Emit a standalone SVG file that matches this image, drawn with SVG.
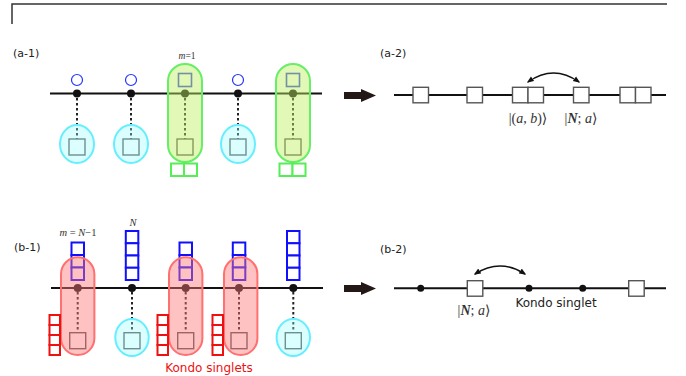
<svg xmlns="http://www.w3.org/2000/svg" width="686" height="376" viewBox="0 0 686 376">
<defs>
<style>
.lbl{font-family:"DejaVu Sans","Liberation Sans",sans-serif;font-size:11px;fill:#222}
.math{font-family:"Liberation Serif","DejaVu Serif",serif;fill:#333}
.it{font-style:italic}
.chain{stroke:#111;stroke-width:2;fill:none}
.dot{fill:#111}
.dash{stroke:#222;stroke-width:2;stroke-dasharray:2.5 2.5}
.sq{fill:#fff;stroke:#555;stroke-width:1.4}
.bcirc{fill:#fff;stroke:#2233ff;stroke-width:1.2}
.bsq{fill:#fff;stroke:#3344dd;stroke-width:1.6}
.bsq2{fill:#fff;stroke:#1010ff;stroke-width:2}
.gsq{fill:#fff;stroke:#55ee55;stroke-width:2}
.rsq{fill:#fff;stroke:#ee1111;stroke-width:2}
.cyan{fill:#99ffff;fill-opacity:0.35;stroke:#66eeff;stroke-width:2}
.green{fill:#bff060;fill-opacity:0.45;stroke:#66ee66;stroke-width:2}
.red{fill:#ff7777;fill-opacity:0.45;stroke:#ff7070;stroke-width:2}
.big{fill:#231815}
.curve{stroke:#111;stroke-width:1.5;fill:none}
</style>
<marker id="ah" viewBox="0 0 10 10" refX="8" refY="5" markerWidth="7" markerHeight="7" orient="auto-start-reverse" markerUnits="userSpaceOnUse">
<path d="M0,1 L10,5 L0,9 Z" fill="#111"/>
</marker>
</defs>

<g id="frame">
<path d="M12,24 V4 H667" fill="none" stroke="#333" stroke-width="1.5"/>
</g>

<g id="labels">
<text class="lbl" x="13" y="57">(a-1)</text>
<text class="lbl" x="380" y="57">(a-2)</text>
<text class="lbl" x="14" y="251">(b-1)</text>
<text class="lbl" x="380" y="253">(b-2)</text>
<text class="math" x="187" y="59" font-size="9.5" text-anchor="middle"><tspan class="it">m</tspan>=1</text>
<text class="math" x="78" y="236" font-size="10.5" text-anchor="middle"><tspan class="it">m</tspan> = <tspan class="it">N</tspan>−1</text>
<text class="math it" x="133" y="226" font-size="10.5" text-anchor="middle">N</text>
<text x="209" y="372" font-family="DejaVu Sans,Liberation Sans,sans-serif" font-size="12" fill="#ee1111" text-anchor="middle">Kondo singlets</text>
<text class="math" x="528" y="123" font-size="14" text-anchor="middle">|(<tspan class="it">a</tspan>, <tspan class="it">b</tspan>)⟩</text>
<text class="math" x="581" y="123" font-size="14" text-anchor="middle">|<tspan class="it" font-weight="bold">N</tspan>; <tspan class="it">a</tspan>⟩</text>
<text class="math" x="474" y="315" font-size="14" text-anchor="middle">|<tspan class="it" font-weight="bold">N</tspan>; <tspan class="it">a</tspan>⟩</text>
<text x="556" y="307" font-family="DejaVu Sans,Liberation Sans,sans-serif" font-size="12" fill="#222" text-anchor="middle">Kondo singlet</text>
</g>

<g id="a1-chain"><line class="chain" x1="50" y1="93.5" x2="322" y2="93.5"/></g>
<g id="a1-site1">
<circle class="bcirc" cx="77" cy="80" r="5.5"/>
<line class="dash" x1="77" y1="98" x2="77" y2="139"/>
<circle class="dot" cx="77" cy="93.5" r="4"/>
<rect class="sq" x="69" y="139" width="16" height="16"/>
<ellipse class="cyan" cx="77" cy="144" rx="17" ry="19"/>
</g>
<g id="a1-site2">
<circle class="bcirc" cx="131" cy="80" r="5.5"/>
<line class="dash" x1="131" y1="98" x2="131" y2="139"/>
<circle class="dot" cx="131" cy="93.5" r="4"/>
<rect class="sq" x="123" y="139" width="16" height="16"/>
<ellipse class="cyan" cx="131" cy="144" rx="17" ry="19"/>
</g>
<g id="a1-site3">
<rect class="bsq" x="178.5" y="73.5" width="13" height="13"/>
<line class="dash" x1="185" y1="98" x2="185" y2="139"/>
<circle class="dot" cx="185" cy="93.5" r="4"/>
<rect class="sq" x="177" y="139" width="16" height="16"/>
<rect class="green" x="168" y="64" width="34" height="98" rx="17"/>
<rect class="gsq" x="171" y="163.5" width="13" height="12.5"/>
<rect class="gsq" x="184" y="163.5" width="13" height="12.5"/>
</g>
<g id="a1-site4">
<circle class="bcirc" cx="238" cy="80" r="5.5"/>
<line class="dash" x1="238" y1="98" x2="238" y2="139"/>
<circle class="dot" cx="238" cy="93.5" r="4"/>
<rect class="sq" x="230" y="139" width="16" height="16"/>
<ellipse class="cyan" cx="238" cy="144" rx="17" ry="19"/>
</g>
<g id="a1-site5">
<rect class="bsq" x="286.5" y="73.5" width="13" height="13"/>
<line class="dash" x1="293" y1="98" x2="293" y2="139"/>
<circle class="dot" cx="293" cy="93.5" r="4"/>
<rect class="sq" x="285" y="139" width="16" height="16"/>
<rect class="green" x="276" y="64" width="34" height="98" rx="17"/>
<rect class="gsq" x="279.5" y="163.5" width="13" height="12.5"/>
<rect class="gsq" x="292.5" y="163.5" width="13" height="12.5"/>
</g>

<g id="arrow-a"><polygon class="big" points="344,92 361,92 361,89 376,95.5 361,102 361,99 344,99"/></g>
<g id="arrow-b"><polygon class="big" points="344,285 361,285 361,282 376,288.5 361,295 361,292 344,292"/></g>

<g id="a2-chain"><line class="chain" x1="394" y1="95" x2="666" y2="95"/></g>
<g id="a2-nodes">
<rect class="sq" x="413" y="87.3" width="15.5" height="15.5"/>
<rect class="sq" x="467" y="87.3" width="15.5" height="15.5"/>
<rect class="sq" x="512.5" y="87.3" width="15.5" height="15.5"/>
<rect class="sq" x="528" y="87.3" width="15.5" height="15.5"/>
<rect class="sq" x="573.5" y="87.3" width="15.5" height="15.5"/>
<rect class="sq" x="620" y="87.3" width="15.5" height="15.5"/>
<rect class="sq" x="635.5" y="87.3" width="15.5" height="15.5"/>
</g>
<g id="a2-connector"><path class="curve" d="M528,82 Q553.5,64 579,82" marker-start="url(#ah)" marker-end="url(#ah)"/></g>

<g id="b1-chain"><line class="chain" x1="51" y1="288" x2="323" y2="288"/></g>
<g id="b1-site1">
<rect class="bsq2" x="71.5" y="242.5" width="12.5" height="12.5"/>
<rect class="bsq2" x="71.5" y="255" width="12.5" height="12.5"/>
<rect class="bsq2" x="71.5" y="267.5" width="12.5" height="12.5"/>
<line class="dash" x1="77.7" y1="292" x2="77.7" y2="333"/>
<circle class="dot" cx="77.7" cy="288" r="4"/>
<rect class="sq" x="69.7" y="332.7" width="16" height="16"/>
<rect class="red" x="61" y="257.3" width="33.4" height="97.7" rx="16.7"/>
<rect class="rsq" x="49.5" y="315" width="10.5" height="10"/>
<rect class="rsq" x="49.5" y="325" width="10.5" height="10"/>
<rect class="rsq" x="49.5" y="335" width="10.5" height="10"/>
<rect class="rsq" x="49.5" y="345" width="10.5" height="10"/>
</g>
<g id="b1-site2">
<rect class="bsq2" x="125.8" y="231" width="12.5" height="12.25"/>
<rect class="bsq2" x="125.8" y="243.25" width="12.5" height="12.25"/>
<rect class="bsq2" x="125.8" y="255.5" width="12.5" height="12.25"/>
<rect class="bsq2" x="125.8" y="267.75" width="12.5" height="12.25"/>
<line class="dash" x1="132" y1="292" x2="132" y2="333"/>
<circle class="dot" cx="132" cy="288" r="4"/>
<rect class="sq" x="124" y="332.7" width="16" height="16"/>
<ellipse class="cyan" cx="132" cy="337.5" rx="16.7" ry="18.5"/>
</g>
<g id="b1-site3">
<rect class="bsq2" x="179.5" y="242.5" width="12.5" height="12.5"/>
<rect class="bsq2" x="179.5" y="255" width="12.5" height="12.5"/>
<rect class="bsq2" x="179.5" y="267.5" width="12.5" height="12.5"/>
<line class="dash" x1="185.7" y1="292" x2="185.7" y2="333"/>
<circle class="dot" cx="185.7" cy="288" r="4"/>
<rect class="sq" x="177.7" y="332.7" width="16" height="16"/>
<rect class="red" x="169" y="257.3" width="33.4" height="97.7" rx="16.7"/>
<rect class="rsq" x="157.5" y="315" width="10.5" height="10"/>
<rect class="rsq" x="157.5" y="325" width="10.5" height="10"/>
<rect class="rsq" x="157.5" y="335" width="10.5" height="10"/>
<rect class="rsq" x="157.5" y="345" width="10.5" height="10"/>
</g>
<g id="b1-site4">
<rect class="bsq2" x="232.8" y="242.5" width="12.5" height="12.5"/>
<rect class="bsq2" x="232.8" y="255" width="12.5" height="12.5"/>
<rect class="bsq2" x="232.8" y="267.5" width="12.5" height="12.5"/>
<line class="dash" x1="239" y1="292" x2="239" y2="333"/>
<circle class="dot" cx="239" cy="288" r="4"/>
<rect class="sq" x="231" y="332.7" width="16" height="16"/>
<rect class="red" x="224" y="257.3" width="33.4" height="97.7" rx="16.7"/>
<rect class="rsq" x="212.5" y="315" width="10.5" height="10"/>
<rect class="rsq" x="212.5" y="325" width="10.5" height="10"/>
<rect class="rsq" x="212.5" y="335" width="10.5" height="10"/>
<rect class="rsq" x="212.5" y="345" width="10.5" height="10"/>
</g>
<g id="b1-site5">
<rect class="bsq2" x="287" y="231" width="12.5" height="12.25"/>
<rect class="bsq2" x="287" y="243.25" width="12.5" height="12.25"/>
<rect class="bsq2" x="287" y="255.5" width="12.5" height="12.25"/>
<rect class="bsq2" x="287" y="267.75" width="12.5" height="12.25"/>
<line class="dash" x1="293.3" y1="292" x2="293.3" y2="333"/>
<circle class="dot" cx="293.3" cy="288" r="4"/>
<rect class="sq" x="285.3" y="332.7" width="16" height="16"/>
<ellipse class="cyan" cx="293.3" cy="337.5" rx="16.7" ry="18.5"/>
</g>

<g id="b2-chain"><line class="chain" x1="394" y1="288.3" x2="666" y2="288.3"/></g>
<g id="b2-nodes">
<circle class="dot" cx="420.7" cy="288.3" r="3.5"/>
<rect class="sq" x="467.3" y="280.7" width="15.5" height="15.5"/>
<circle class="dot" cx="529" cy="288.3" r="3.5"/>
<circle class="dot" cx="582.7" cy="288.3" r="3.5"/>
<rect class="sq" x="628.7" y="280.7" width="15.5" height="15.5"/>
</g>
<g id="b2-connector"><path class="curve" d="M475,274 Q500,258 525,274" marker-start="url(#ah)" marker-end="url(#ah)"/></g>
</svg>
